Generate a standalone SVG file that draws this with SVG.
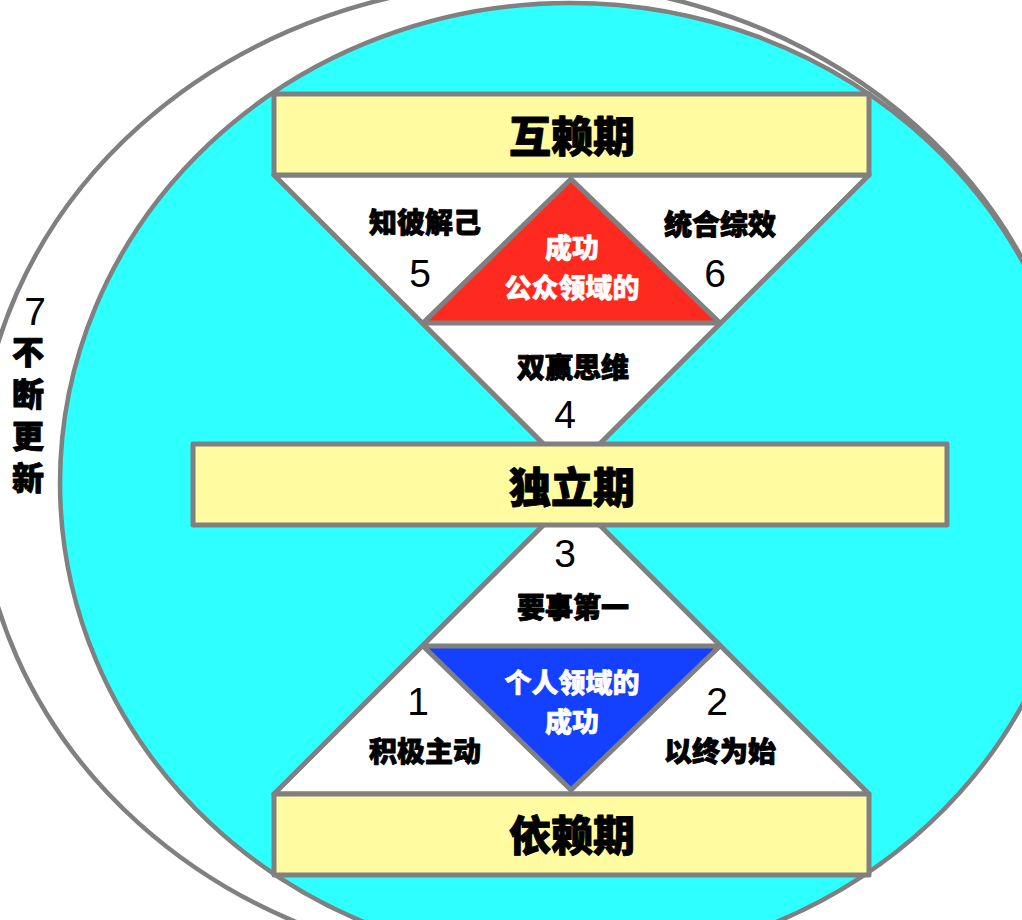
<svg xmlns="http://www.w3.org/2000/svg" width="1022" height="920" viewBox="0 0 1022 920">
<style>
.ln{stroke:#808080;stroke-width:5;stroke-linejoin:round}
.ring{stroke:#808080;stroke-width:4.5}
.box{fill:#FFFBA0;stroke:#808080;stroke-width:5;stroke-linejoin:round}
.cj{font-family:"Noto Sans CJK SC","Liberation Sans",sans-serif;font-weight:900;text-anchor:middle;fill:#000;stroke:#000;stroke-width:0.9;stroke-linejoin:round}
.cw{font-family:"Noto Sans CJK SC","Liberation Sans",sans-serif;font-weight:900;text-anchor:middle;fill:#fff;stroke:#fff;stroke-width:0.6;stroke-linejoin:round}
.num{font-family:"Liberation Sans",Arial,sans-serif;font-size:39px;text-anchor:middle;fill:#000}
.big{font-size:42px}
.mid{font-size:28px}
</style>
<rect width="1022" height="920" fill="#fff"/>
<g id="ring-outer">
<ellipse cx="528" cy="475" rx="550" ry="493" fill="#fff" class="ring"/>
</g>
<g id="ring-inner">
<ellipse cx="570" cy="483" rx="510" ry="480" fill="#2EFFFF" class="ring"/>
</g>
<g id="connectors">
<polygon id="upper-tri" points="274,175 869,175 571.5,472" fill="#fff" class="ln"/>
<polygon id="lower-tri" points="274,794 869,794 571.5,497" fill="#fff" class="ln"/>
</g>
<g id="public-success">
<polygon points="571,179 423,323 720,323" fill="#FF2A1F" class="ln"/>
<text class="cw" font-size="27" x="572" y="258">成功</text>
<text class="cw" font-size="27" x="572" y="298">公众领域的</text>
</g>
<g id="private-success">
<polygon points="423,646 720,646 571,790" fill="#1440FF" class="ln"/>
<text class="cw" font-size="27" x="572" y="693">个人领域的</text>
<text class="cw" font-size="27" x="572" y="732">成功</text>
</g>
<g id="interdependence">
<rect x="274" y="94" width="595" height="81" class="box"/>
<text class="cj big" x="572" y="152">互赖期</text>
</g>
<g id="independence">
<rect x="193" y="444" width="754" height="81" class="box"/>
<text class="cj big" x="572" y="503">独立期</text>
</g>
<g id="dependence">
<rect x="274" y="794" width="595" height="81" class="box"/>
<text class="cj big" x="572" y="851">依赖期</text>
</g>
<g id="habit5">
<text class="cj mid" x="425" y="233">知彼解己</text>
<text class="num" x="420" y="287">5</text>
</g>
<g id="habit6">
<text class="cj mid" x="720" y="235">统合综效</text>
<text class="num" x="715" y="287">6</text>
</g>
<g id="habit4">
<text class="cj mid" x="573" y="378">双赢思维</text>
<text class="num" x="565" y="428">4</text>
</g>
<g id="habit3">
<text class="num" x="565" y="567">3</text>
<text class="cj mid" x="573" y="618">要事第一</text>
</g>
<g id="habit1">
<text class="num" x="418" y="715">1</text>
<text class="cj mid" x="425" y="762">积极主动</text>
</g>
<g id="habit2">
<text class="num" x="717" y="715">2</text>
<text class="cj mid" x="720" y="762">以终为始</text>
</g>
<g id="habit7">
<text class="num" x="35" y="325">7</text>
<text class="cj" font-size="32" x="28" y="364">不</text>
<text class="cj" font-size="32" x="28" y="406">断</text>
<text class="cj" font-size="32" x="28" y="448">更</text>
<text class="cj" font-size="32" x="28" y="490">新</text>
</g>
</svg>
